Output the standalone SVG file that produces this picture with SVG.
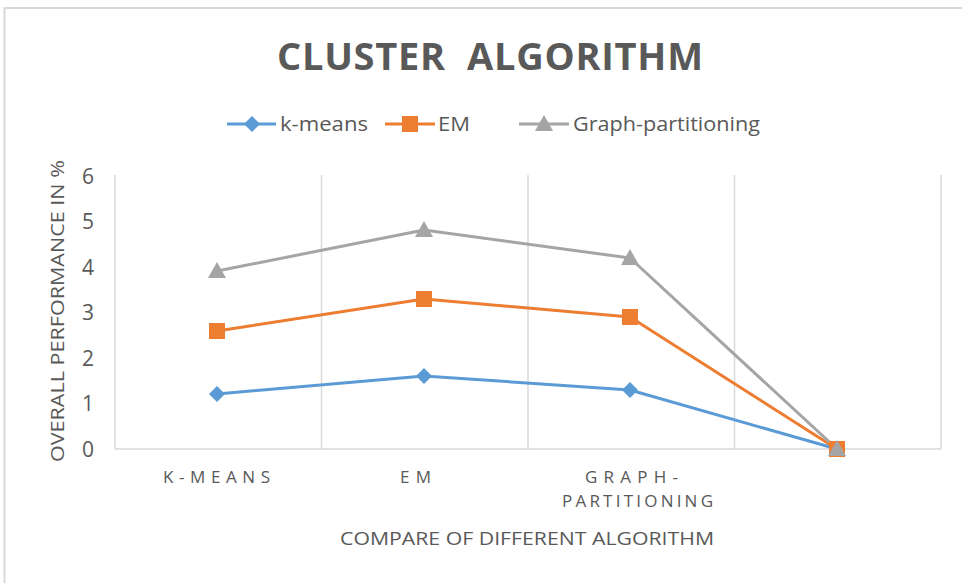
<svg xmlns="http://www.w3.org/2000/svg" width="962" height="583" viewBox="0 0 962 583">
<style>
.t{font-family:"Open Sans","Liberation Sans",sans-serif;fill:#595959}
.grid{stroke:#d9d9d9;stroke-width:1.5;fill:none}
.s1{stroke:#5B9BD5;stroke-width:3;fill:none;stroke-linejoin:round}
.s2{stroke:#ED7D31;stroke-width:3;fill:none;stroke-linejoin:round}
.s3{stroke:#A5A5A5;stroke-width:3;fill:none;stroke-linejoin:round}
</style>
<defs>
<path id="dia" d="M0,-8 L8,0 L0,8 L-8,0 Z" fill="#5B9BD5"/>
<rect id="sq" x="-8" y="-8" width="16" height="16" fill="#ED7D31"/>
<path id="tri" d="M0,-9 L9,7 L-9,7 Z" fill="#A5A5A5"/>
</defs>
<rect x="0" y="0" width="962" height="583" fill="#fff"/>
<path d="M4.5,583 V8 H962" stroke="#d9d9d9" stroke-width="2" fill="none"/>
<g id="title"><text class="t" x="277" y="70" font-size="38" font-weight="bold" textLength="426" lengthAdjust="spacing" xml:space="preserve">CLUSTER  ALGORITHM</text></g>
<g id="legend">
<line class="s1" x1="227" y1="124" x2="276" y2="124"/><use href="#dia" x="252" y="124"/>
<text class="t" x="280" y="131" font-size="20" textLength="88" lengthAdjust="spacingAndGlyphs">k-means</text>
<line class="s2" x1="385" y1="124" x2="435" y2="124"/><use href="#sq" x="410" y="124"/>
<text class="t" x="438" y="131" font-size="20" textLength="32" lengthAdjust="spacingAndGlyphs">EM</text>
<line class="s3" x1="519" y1="124" x2="569" y2="124"/><use href="#tri" x="544" y="124"/>
<text class="t" x="573" y="131" font-size="20" textLength="187" lengthAdjust="spacingAndGlyphs">Graph-partitioning</text>
</g>
<g id="grid">
<path class="grid" d="M115,175 V449 M321.5,175 V449 M528,175 V449 M734.5,175 V449 M941,175 V449 M115,449 H941"/>
</g>
<g id="yaxis" class="t" font-size="21" text-anchor="middle">
<text x="88" y="457">0</text><text x="88" y="411">1</text><text x="88" y="366">2</text><text x="88" y="320">3</text><text x="88" y="275">4</text><text x="88" y="229">5</text><text x="88" y="184">6</text>
</g>
<g id="ytitle"><text class="t" font-size="19" text-anchor="middle" transform="translate(64,311) rotate(-90)" textLength="302" lengthAdjust="spacingAndGlyphs">OVERALL PERFORMANCE IN %</text></g>
<g id="xaxis" class="t" font-size="17">
<text x="163" y="483" textLength="107" lengthAdjust="spacing">K-MEANS</text>
<text x="400" y="483" textLength="31" lengthAdjust="spacing">EM</text>
<text x="585" y="483" textLength="93" lengthAdjust="spacing">GRAPH-</text>
<text x="562" y="507" textLength="151" lengthAdjust="spacing">PARTITIONING</text>
</g>
<g id="xtitle"><text class="t" x="527" y="545" font-size="18" text-anchor="middle" textLength="374" lengthAdjust="spacingAndGlyphs">COMPARE OF DIFFERENT ALGORITHM</text></g>
<g id="connectors">
<polyline class="s1" points="217,394 424,376 630,390 837,449"/>
<polyline class="s2" points="217,331 424,299 630,317 837,449"/>
<polyline class="s3" points="217,271 424,230 630,258 837,449"/>
</g>
<g id="kmeans-points"><use href="#dia" x="217" y="394"/><use href="#dia" x="424" y="376"/><use href="#dia" x="630" y="390"/><use href="#dia" x="837" y="449"/></g>
<g id="em-points"><use href="#sq" x="217" y="331"/><use href="#sq" x="424" y="299"/><use href="#sq" x="630" y="317"/><use href="#sq" x="837" y="449"/></g>
<g id="graph-points"><use href="#tri" x="217" y="271"/><use href="#tri" x="424" y="230"/><use href="#tri" x="630" y="258"/><use href="#tri" x="837" y="449"/></g>
</svg>
